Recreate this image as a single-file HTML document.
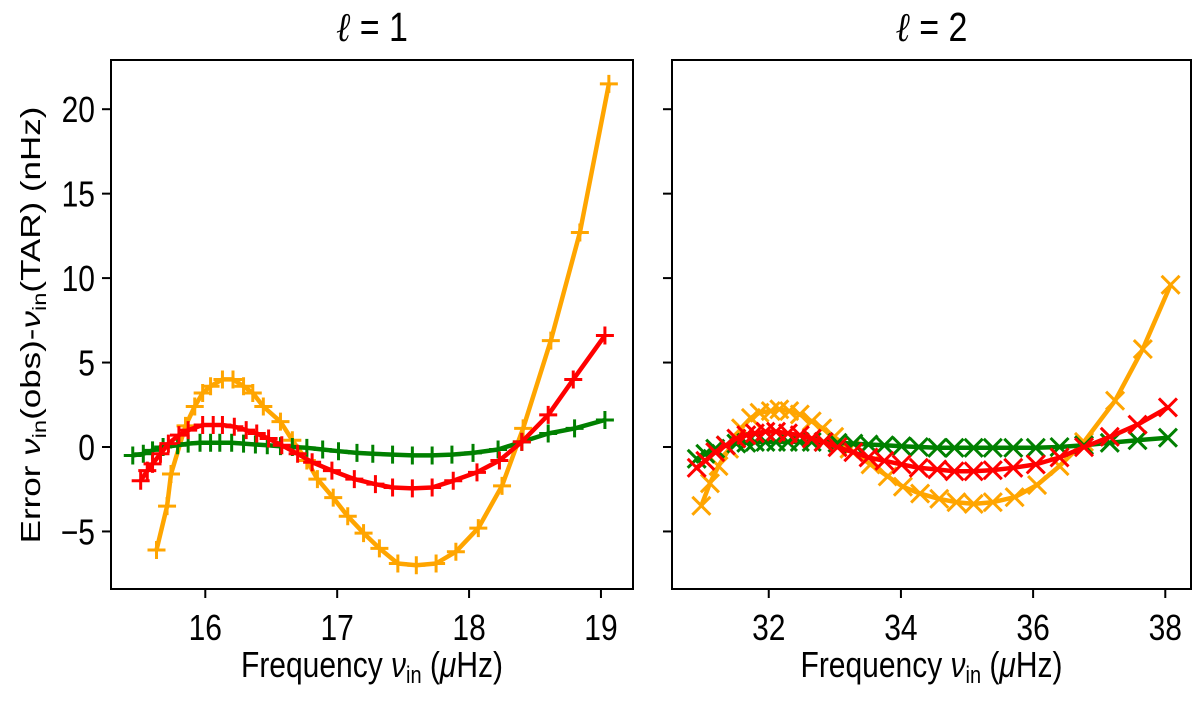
<!DOCTYPE html>
<html><head><meta charset="utf-8"><style>
html,body{margin:0;padding:0;background:#fff;}
svg{display:block;font-family:"Liberation Sans",sans-serif;}
</style></head><body>
<svg id="chart" width="1200" height="701" viewBox="0 0 1200 701" xmlns="http://www.w3.org/2000/svg">
<g id="left-panel"></g>
<g id="right-panel"></g>
<text transform="translate(40,325) rotate(-90) scale(1.25,1)" text-anchor="middle" font-size="28" fill="#000">Error <tspan font-style="italic">ν</tspan><tspan font-size="19" dy="6">in</tspan><tspan dy="-6">(obs)-</tspan><tspan font-style="italic">ν</tspan><tspan font-size="19" dy="6">in</tspan><tspan dy="-6">(TAR) (nHz)</tspan></text>
</svg>
<script>
const ns="http://www.w3.org/2000/svg";
// shared y axis
const yTicks=[-5,0,5,10,15,20];
const yTickLabels=["\u22125","0","5","10","15","20"];
// left panel (l=1) data
const xTicksL=[16,17,18,19];
const orangeLx=[15.63,15.71,15.74,15.85,15.92,15.98,16.04,16.13,16.21,16.29,16.36,16.44,16.57,16.66,16.77,16.85,16.97,17.08,17.20,17.32,17.46,17.60,17.75,17.90,18.07,18.25,18.41,18.62,18.84,19.06];
const orangeLy=[-6.1,-3.5,-1.6,1.25,2.4,3.2,3.6,4.0,4.0,3.6,3.2,2.4,1.5,0.4,-0.8,-1.9,-3.0,-4.1,-5.1,-6.0,-6.9,-7.0,-6.9,-6.2,-4.8,-2.3,1.1,6.3,12.7,21.5];
const redLx=[15.51,15.56,15.60,15.66,15.72,15.80,15.87,15.98,16.06,16.13,16.22,16.31,16.39,16.48,16.58,16.70,16.81,16.96,17.13,17.29,17.42,17.57,17.72,17.88,18.06,18.23,18.40,18.60,18.79,19.03];
const redLy=[-2.0,-1.4,-1.0,-0.4,0.2,0.7,1.0,1.3,1.3,1.3,1.2,1.0,0.8,0.5,0.1,-0.4,-0.9,-1.4,-1.9,-2.2,-2.4,-2.45,-2.4,-2.0,-1.5,-0.8,0.3,1.9,4.0,6.6];
const greenLx=[15.45,15.53,15.60,15.68,15.79,15.87,15.96,16.04,16.11,16.20,16.29,16.38,16.47,16.57,16.66,16.77,16.89,17.01,17.15,17.27,17.42,17.57,17.72,17.87,18.03,18.22,18.40,18.60,18.80,19.03];
const greenLy=[-0.5,-0.4,-0.2,0,0.1,0.2,0.25,0.25,0.25,0.25,0.2,0.15,0.1,0.05,0,-0.05,-0.15,-0.25,-0.35,-0.4,-0.45,-0.5,-0.5,-0.45,-0.35,-0.15,0.3,0.8,1.1,1.6];
// right panel (l=2) data
const xTicksR=[32,34,36,38];
const orangeRx=[30.98,31.11,31.24,31.40,31.58,31.73,31.86,32.03,32.16,32.31,32.47,32.65,32.81,32.99,33.22,33.54,33.80,34.03,34.29,34.58,34.84,35.10,35.39,35.72,36.06,36.40,36.77,37.24,37.66,38.08];
const orangeRy=[-3.48,-2.15,-1.13,-0.11,1.11,1.72,2.03,2.13,2.23,2.13,1.93,1.52,1.11,0.6,-0.11,-1.03,-1.74,-2.35,-2.76,-3.07,-3.27,-3.37,-3.27,-2.97,-2.25,-1.13,0.3,2.74,5.8,9.6];
const redRx=[30.91,31.04,31.19,31.35,31.51,31.66,31.79,31.95,32.11,32.29,32.47,32.65,32.83,33.04,33.28,33.51,33.75,34.01,34.27,34.55,34.81,35.10,35.39,35.70,36.04,36.40,36.77,37.16,37.58,38.04];
const redRy=[-1.23,-0.82,-0.31,0.09,0.5,0.7,0.81,0.91,0.91,0.81,0.7,0.5,0.3,-0.01,-0.31,-0.62,-0.82,-1.03,-1.23,-1.33,-1.44,-1.44,-1.37,-1.23,-1.03,-0.62,-0.01,0.6,1.32,2.34];
const greenRx=[30.91,31.04,31.19,31.35,31.51,31.66,31.79,31.95,32.11,32.29,32.47,32.65,32.83,33.04,33.28,33.51,33.75,34.01,34.27,34.55,34.81,35.10,35.39,35.70,36.04,36.40,36.77,37.16,37.58,38.04];
const greenRy=[-0.7,-0.4,-0.1,0.1,0.2,0.25,0.3,0.3,0.3,0.3,0.3,0.3,0.3,0.25,0.2,0.15,0.1,0.05,0,-0.05,-0.05,-0.05,-0.05,-0.05,-0.05,0,0.1,0.25,0.4,0.55];

const TOP=60,BOT=589;
function yS(v){return 447-v*16.89;}
function mk(tag,attrs,parent){const e=document.createElementNS(ns,tag);for(const k in attrs)e.setAttribute(k,attrs[k]);parent.appendChild(e);return e;}

function panel(g,x0,x1,xmin,xmax,ticks,titleNum,series,marker,showYLabels){
  const xS=v=>x0+(v-xmin)/(xmax-xmin)*(x1-x0);
  series.forEach(s=>{
    const pts=s.x.map((v,i)=>xS(v).toFixed(1)+","+yS(s.y[i]).toFixed(1)).join(" ");
    const line=mk("polyline",{points:pts,fill:"none",stroke:s.c,"stroke-width":4.5,"stroke-linejoin":"round"},g);
    
    
    s.x.forEach((v,i)=>{
      const cx=xS(v),cy=yS(s.y[i]);
      const h=9;
      const d=marker==="+"?`M${cx-h},${cy}H${cx+h}M${cx},${cy-h}V${cy+h}`:`M${cx-h},${cy-h}L${cx+h},${cy+h}M${cx-h},${cy+h}L${cx+h},${cy-h}`;
      const m=mk("path",{d:d,stroke:s.c,"stroke-width":3,fill:"none"},g);
      
      
    });
  });
  const frame=mk("rect",{x:x0,y:TOP,width:x1-x0,height:BOT-TOP,fill:"none",stroke:"#000","stroke-width":2},g);
  
  
  ticks.forEach(t=>{
    const x=xS(t);
    const tk=mk("line",{x1:x,x2:x,y1:BOT,y2:BOT+9,stroke:"#000","stroke-width":2},g);
    
    
    const lb=mk("text",{transform:`translate(${x},640) scale(1,1.2)`,"text-anchor":"middle","font-size":30},g);
    lb.textContent=String(t);
    
    
  });
  yTicks.forEach((t,i)=>{
    const y=yS(t);
    const tk=mk("line",{x1:x0-9,x2:x0,y1:y,y2:y,stroke:"#000","stroke-width":2},g);
    
    
    if(showYLabels){
      const lb=mk("text",{transform:`translate(${x0-16},${y+13}) scale(1,1.2)`,"text-anchor":"end","font-size":30},g);
      lb.textContent=yTickLabels[i];
      
      
    }
  });
  const cx=(x0+x1)/2;
  const xt=mk("text",{transform:`translate(${cx},677) scale(1,1.2)`,"text-anchor":"middle","font-size":30},g);
  xt.innerHTML='Frequency <tspan font-style="italic">ν</tspan><tspan font-size="20" dy="5">in</tspan><tspan dy="-5"> (</tspan><tspan font-style="italic">μ</tspan>Hz)';
  
  
  const tt=mk("text",{transform:`translate(${cx},41) scale(1,1.2)`,"text-anchor":"middle","font-size":34},g);
  tt.innerHTML='<tspan font-style="italic" font-family="Liberation Serif, serif">ℓ</tspan> = '+titleNum;
  
  
}
panel(document.getElementById("left-panel"),111,633,15.285,19.243,xTicksL,"1",[
 {x:orangeLx,y:orangeLy,c:"#ffa500",n:"orange-series"},
 {x:greenLx,y:greenLy,c:"#008000",n:"green-series"},
 {x:redLx,y:redLy,c:"#ff0000",n:"red-series"}],"+",true);
panel(document.getElementById("right-panel"),672,1191,30.536,38.389,xTicksR,"2",[
 {x:orangeRx,y:orangeRy,c:"#ffa500",n:"orange-series"},
 {x:greenRx,y:greenRy,c:"#008000",n:"green-series"},
 {x:redRx,y:redRy,c:"#ff0000",n:"red-series"}],"x",false);
</script>
</body></html>
